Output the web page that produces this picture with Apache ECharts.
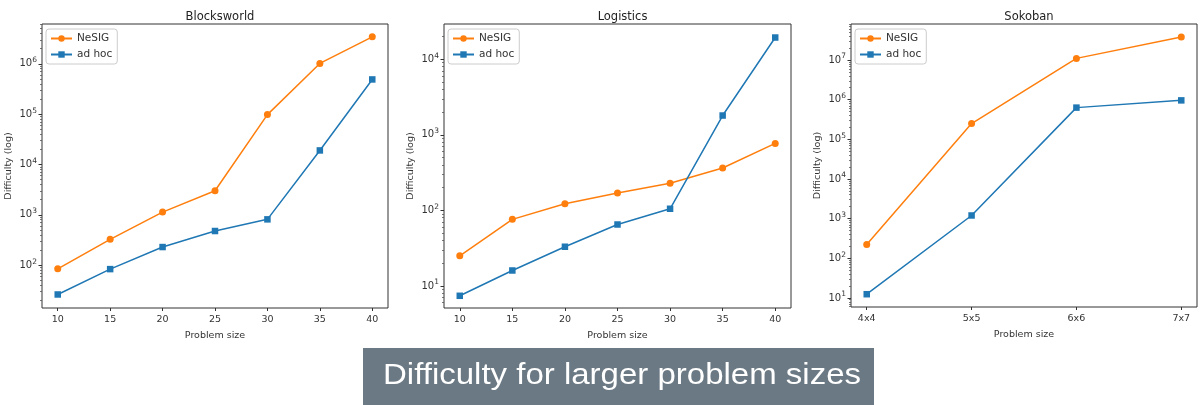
<!DOCTYPE html>
<html>
<head>
<meta charset="utf-8">
<script src="https://cdn.jsdelivr.net/npm/echarts@6/dist/echarts.min.js"></script>
<style>
  html, body { margin: 0; padding: 0; background: #fff; }
  #chart { width: 1200px; height: 405px; }
</style>
</head>
<body>
<div id="chart"></div>
<script>
// data
const panelTitles = ['Blocksworld', 'Logistics', 'Sokoban'];
const seriesNames = ['NeSIG', 'ad hoc'];
const sizes = [10, 15, 20, 25, 30, 35, 40];
const sokobanSizes = ['4x4', '5x5', '6x6', '7x7'];

const blocksNesig = [84, 325, 1130, 3000, 98000, 1020000, 3450000];
const blocksAdhoc = [26, 83, 228, 475, 810, 19000, 490000];
const logisticsNesig = [25, 76, 122, 170, 229, 364, 770];
const logisticsAdhoc = [7.4, 16, 33, 65, 105, 1800, 19400];
const sokobanNesig = [221, 250000, 11000000, 38000000];
const sokobanAdhoc = [12.4, 1200, 630000, 960000];

const caption = 'Difficulty for larger problem sizes';

const ORANGE = '#ff7f0e';
const BLUE = '#1f77b4';
const FONT = 'DejaVu Sans';

const grids = [
  { left: 42, top: 24, width: 346, height: 284 },
  { left: 444, top: 24, width: 347, height: 284 },
  { left: 851, top: 24, width: 346, height: 283 }
];
const yRanges = [[14, 6.2e6], [5.1, 29300], [5.9, 8.1e7]];

const sokobanIdx = sokobanSizes.map((s, i) => i);
const panelX = [sizes, sizes, sokobanIdx];
const panelData = [
  [blocksNesig, blocksAdhoc],
  [logisticsNesig, logisticsAdhoc],
  [sokobanNesig, sokobanAdhoc]
];

function pow10Label(v) {
  return '{b|10}{s|' + Math.round(Math.log10(v)) + '}';
}

// matplotlib style minor ticks: 2..9 x 10^k inside the range
function minorTicks(range) {
  const out = [];
  for (let e = Math.floor(Math.log10(range[0])); e <= Math.ceil(Math.log10(range[1])); e++) {
    for (let m = 2; m <= 9; m++) {
      const v = m * Math.pow(10, e);
      if (v > range[0] && v < range[1]) out.push(v);
    }
  }
  return out;
}

const option = {
  animation: false,
  backgroundColor: '#fff',
  title: [],
  legend: [],
  grid: [],
  xAxis: [],
  yAxis: [],
  series: [],
  graphic: [
    {
      type: 'rect', left: 363, top: 348,
      shape: { width: 511, height: 60 },
      style: { fill: '#6b7984' }
    },
    {
      // caption text is a bit wider than Liberation Sans, so stretch it
      type: 'text', x: 383, y: 376, scaleX: 1.1,
      style: {
        text: caption, fill: '#fff', align: 'left', verticalAlign: 'middle',
        font: '30px "Liberation Sans", Arial, sans-serif'
      }
    }
  ]
};

grids.forEach(function (g, p) {
  option.grid.push(Object.assign({
    show: true, borderColor: '#333', borderWidth: 1, backgroundColor: 'transparent'
  }, g));

  option.title.push({
    text: panelTitles[p],
    left: g.left + g.width / 2, top: 6, textAlign: 'center',
    textStyle: { fontFamily: FONT, fontSize: 11.5, fontWeight: 'normal', color: '#222' }
  });

  const isSoko = p === 2;
  option.xAxis.push({
    type: 'value', gridIndex: p,
    min: isSoko ? -0.15 : 8.5, max: isSoko ? 3.15 : 41.5,
    name: 'Problem size', nameLocation: 'middle', nameGap: 23,
    nameTextStyle: { fontFamily: FONT, fontSize: 9.5, color: '#333' },
    axisLine: { show: false, onZero: false },
    splitLine: { show: false },
    axisTick: { show: true, length: 3, lineStyle: { color: '#333' }, customValues: panelX[p] },
    axisLabel: {
      customValues: panelX[p], margin: 7,
      fontFamily: FONT, fontSize: 9.5, color: '#333',
      formatter: isSoko ? function (v) { return sokobanSizes[Math.round(v)]; } : '{value}'
    }
  });

  option.yAxis.push({
    type: 'log', logBase: 10, gridIndex: p,
    min: yRanges[p][0], max: yRanges[p][1],
    name: 'Difficulty (log)', nameLocation: 'middle', nameGap: 28,
    nameTextStyle: { fontFamily: FONT, fontSize: 9.5, color: '#333' },
    axisLine: { show: false, onZero: false },
    splitLine: { show: false },
    axisTick: { show: true, length: 3.5, lineStyle: { color: '#333' } },
    axisLabel: {
      showMinLabel: false, showMaxLabel: false, margin: 5,
      formatter: pow10Label,
      rich: {
        b: { fontFamily: FONT, fontSize: 10, color: '#333' },
        s: { fontFamily: FONT, fontSize: 7.5, color: '#333', padding: [0, 0, 7, 0] }
      }
    }
  });

  // second, label-less log axis on the same side just for the minor ticks
  option.yAxis.push({
    type: 'log', logBase: 10, gridIndex: p, position: 'left',
    min: yRanges[p][0], max: yRanges[p][1],
    axisLine: { show: false, onZero: false },
    splitLine: { show: false },
    axisLabel: { show: false },
    axisTick: { show: true, length: 2, lineStyle: { color: '#555', width: 0.8 }, customValues: minorTicks(yRanges[p]) }
  });

  option.legend.push({
    left: g.left + 4, top: g.top + 5, orient: 'vertical',
    padding: [4, 5, 4, 4], itemGap: 5, itemWidth: 21, itemHeight: 8,
    backgroundColor: '#fff', borderColor: '#ccc', borderWidth: 1, borderRadius: 3,
    textStyle: { fontFamily: FONT, fontSize: 10.5, color: '#333' },
    data: seriesNames
  });

  seriesNames.forEach(function (name, k) {
    option.series.push({
      name: name, type: 'line',
      xAxisIndex: p, yAxisIndex: 2 * p,
      symbol: k === 0 ? 'circle' : 'rect',
      symbolSize: k === 0 ? 7 : 6.5,
      itemStyle: { color: k === 0 ? ORANGE : BLUE },
      lineStyle: { width: 1.5, color: k === 0 ? ORANGE : BLUE },
      data: panelData[p][k].map(function (v, i) { return [panelX[p][i], v]; })
    });
  });
});

const chart = echarts.init(document.getElementById('chart'));
chart.setOption(option);
</script>
</body>
</html>
